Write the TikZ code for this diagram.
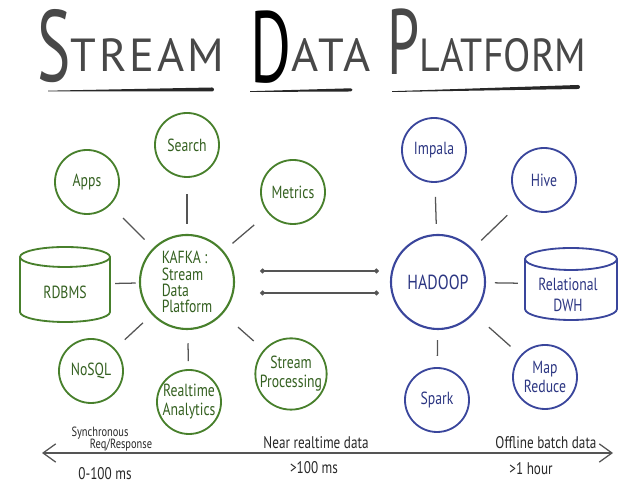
\documentclass[tikz,border=0pt]{standalone}
\usepackage{fontspec}
\setmainfont{PT Sans}[FakeStretch=0.78]
\newfontfamily\titlefont{PT Sans}[LetterSpace=6]
\newfontfamily\titletightfont{PT Sans}[FakeStretch=0.86]
\newfontfamily\titlebigfont{PT Sans}[FakeStretch=0.62]
\usepackage{tikz}
\usetikzlibrary{arrows.meta, positioning, calc}
\definecolor{kafkagreen}{RGB}{72,128,44}
\definecolor{kafkaink}{RGB}{52,96,32}
\definecolor{hadoopblue}{RGB}{58,70,156}
\definecolor{hadoopink}{RGB}{44,54,130}
\definecolor{linkgray}{RGB}{85,85,85}
\definecolor{titleink}{RGB}{40,40,40}

\tikzset{
  kafkanode/.style={circle, draw=kafkagreen, line width=1.3pt, text=kafkaink, minimum size=1.6cm, inner sep=0pt, align=center, font=\fontsize{12.5}{13.5}\selectfont},
  hadoopnode/.style={kafkanode, draw=hadoopblue, text=hadoopink},
  hubnode/.style={minimum size=2.35cm, line width=1.5pt},
  dbbody/.style={inner sep=0pt, outer sep=0pt},
  link/.style={draw=linkgray, line width=0.9pt, shorten <=0.3cm, shorten >=0.35cm},
  dblink/.style={link, {Circle[length=3.5pt]}-{Circle[length=3.5pt]}, shorten <=0.625cm, shorten >=0.275cm},
  timeaxis/.style={draw=linkgray, line width=0.9pt, {Straight Barb[length=9pt,width=13pt]}-{Straight Barb[length=9pt,width=13pt]}},
  axislabel/.style={text=titleink, font=\fontsize{12}{12}\selectfont, inner sep=0pt},
  titleword/.style={anchor=base west, inner sep=0pt, text=titleink!85},
}

\begin{document}
\begin{tikzpicture}[x=0.025cm, y=0.025cm]
\useasboundingbox (0,0) rectangle (640,490);

% title
\node[titleword] (titlestream) at (37,418)
  {\raisebox{-0.25cm}{\titlebigfont\fontsize{72}{72}\selectfont S}\titlefont\fontsize{33}{33}\selectfont TREAM};
\node[titleword] (titledata) at (250,418)
  {\raisebox{-0.27cm}{\titlebigfont\fontsize{72}{72}\selectfont\color{black}D}\titlefont\fontsize{33}{33}\selectfont ATA};
\node[titleword] (titleplatform) at (387,418)
  {\raisebox{-0.07cm}{\titlebigfont\fontsize{66}{66}\selectfont P}\titletightfont\fontsize{33}{33}\selectfont LATFORM};
\fill[titleink] (48,398.5) -- (212,398.5) arc[start angle=-90, end angle=90, radius=2] -- (48,399.3) -- cycle;
\fill[titleink] (250,398) -- (351,398.5) arc[start angle=-90, end angle=90, radius=1.6] -- (250,398.8) -- cycle;
\fill[titleink] (392,398) -- (578,401) arc[start angle=-90, end angle=90, radius=2] -- (392,398.8) -- cycle;

% kafka side
\node[kafkanode, hubnode, align=left, font=\fontsize{12.5}{11.5}\selectfont] (kafka) at (187,208) {KAFKA :\\Stream\\Data\\Platform};
\node[kafkanode] (search) at (187,345) {Search};
\node[kafkanode] (apps) at (87,308) {Apps};
\node[kafkanode] (metrics) at (293,298) {Metrics};
\node[kafkanode] (nosql) at (91,119) {NoSQL};
\node[kafkanode] (realtime) at (189,88) {Realtime\\Analytics};
\node[kafkanode] (streamproc) at (291,116) {Stream\\Processing};

\node[dbbody, minimum width=2.25cm, minimum height=1.375cm] (rdbms) at (65,205.5) {};
\draw[kafkagreen, line width=1.3pt] (rdbms.north west) -- (rdbms.south west)
  arc[start angle=180, end angle=360, x radius=45, y radius=10] -- (rdbms.north east);
\draw[kafkagreen, line width=1.3pt] (rdbms.north) ellipse [x radius=45, y radius=10];
\node[text=kafkaink, font=\fontsize{12.5}{13.5}\selectfont] (rdbmstext) at ([yshift=-0.2cm]rdbms.center) {RDBMS};

\draw[link, shorten >=0.45cm] (kafka) -- (apps);
\draw[link, shorten <=0.25cm, shorten >=0.4cm] (kafka) -- (search);
\draw[link, shorten <=0.29cm, shorten >=0.45cm] (kafka) -- (metrics);
\draw[link, shorten <=0.08cm, shorten >=0.13cm] (kafka) -- (rdbms);
\draw[link, shorten >=0.33cm] (kafka) -- (nosql);
\draw[link, shorten <=0.33cm, shorten >=0.2cm] (kafka) -- (realtime);
\draw[link, shorten <=0.5cm, shorten >=0.33cm] (kafka) -- (streamproc);

% hadoop side
\node[hadoopnode, hubnode, font=\fontsize{14.5}{15}\selectfont] (hadoop) at (438,208) {HADOOP};
\node[hadoopnode] (impala) at (434,340) {Impala};
\node[hadoopnode] (hive) at (544,310) {Hive};
\node[hadoopnode] (mapreduce) at (545,113) {Map\\Reduce};
\node[hadoopnode] (spark) at (437,90) {Spark};

\node[dbbody, minimum width=2.3cm, minimum height=1.25cm] (dwh) at (571,206) {};
\draw[hadoopblue, line width=1.3pt] (dwh.north west) -- (dwh.south west)
  arc[start angle=180, end angle=360, x radius=46, y radius=11] -- (dwh.north east);
\draw[hadoopblue, line width=1.3pt] (dwh.north) ellipse [x radius=46, y radius=11];
\node[text=hadoopink, align=center, font=\fontsize{12.5}{15}\selectfont] (dwhtext) at ([xshift=-0.075cm, yshift=-0.275cm]dwh.center) {Relational\\DWH};

\draw[link, shorten <=0.25cm, shorten >=0.35cm] (hadoop) -- (impala);
\draw[link, shorten >=0.45cm] (hadoop) -- (hive);
\draw[link, shorten <=0.22cm, shorten >=0.18cm] (hadoop) -- (dwh);
\draw[link, shorten <=0.5cm, shorten >=0.33cm] (hadoop) -- (mapreduce);
\draw[link, shorten <=0.25cm, shorten >=0.28cm] (hadoop) -- (spark);

% kafka to hadoop
\draw[dblink] ([yshift=0.275cm]kafka.east) -- ([yshift=0.275cm]hadoop.west);
\draw[dblink] ([yshift=-0.275cm]kafka.east) -- ([yshift=-0.275cm]hadoop.west);

% latency axis
\coordinate (axisleft) at (42,37);
\coordinate (axisright) at (613,37);
\draw[timeaxis] (axisleft) -- (axisright);
\node[axislabel, font=\fontsize{9.5}{9.5}\selectfont] (synclabel) at (100,57) {Synchronous};
\node[axislabel, font=\fontsize{9.5}{9.5}\selectfont] (reqlabel) at (121,45) {Req/Response};
\node[axislabel] (synctime) at (105,16) {0-100 ms};
\node[axislabel] (nearlabel) at (316,47) {Near realtime data};
\node[axislabel] (neartime) at (314,22) {>100 ms};
\node[axislabel] (batchlabel) at (546,47) {Offline batch data};
\node[axislabel] (batchtime) at (531,21) {>1 hour};
\end{tikzpicture}
\end{document}
